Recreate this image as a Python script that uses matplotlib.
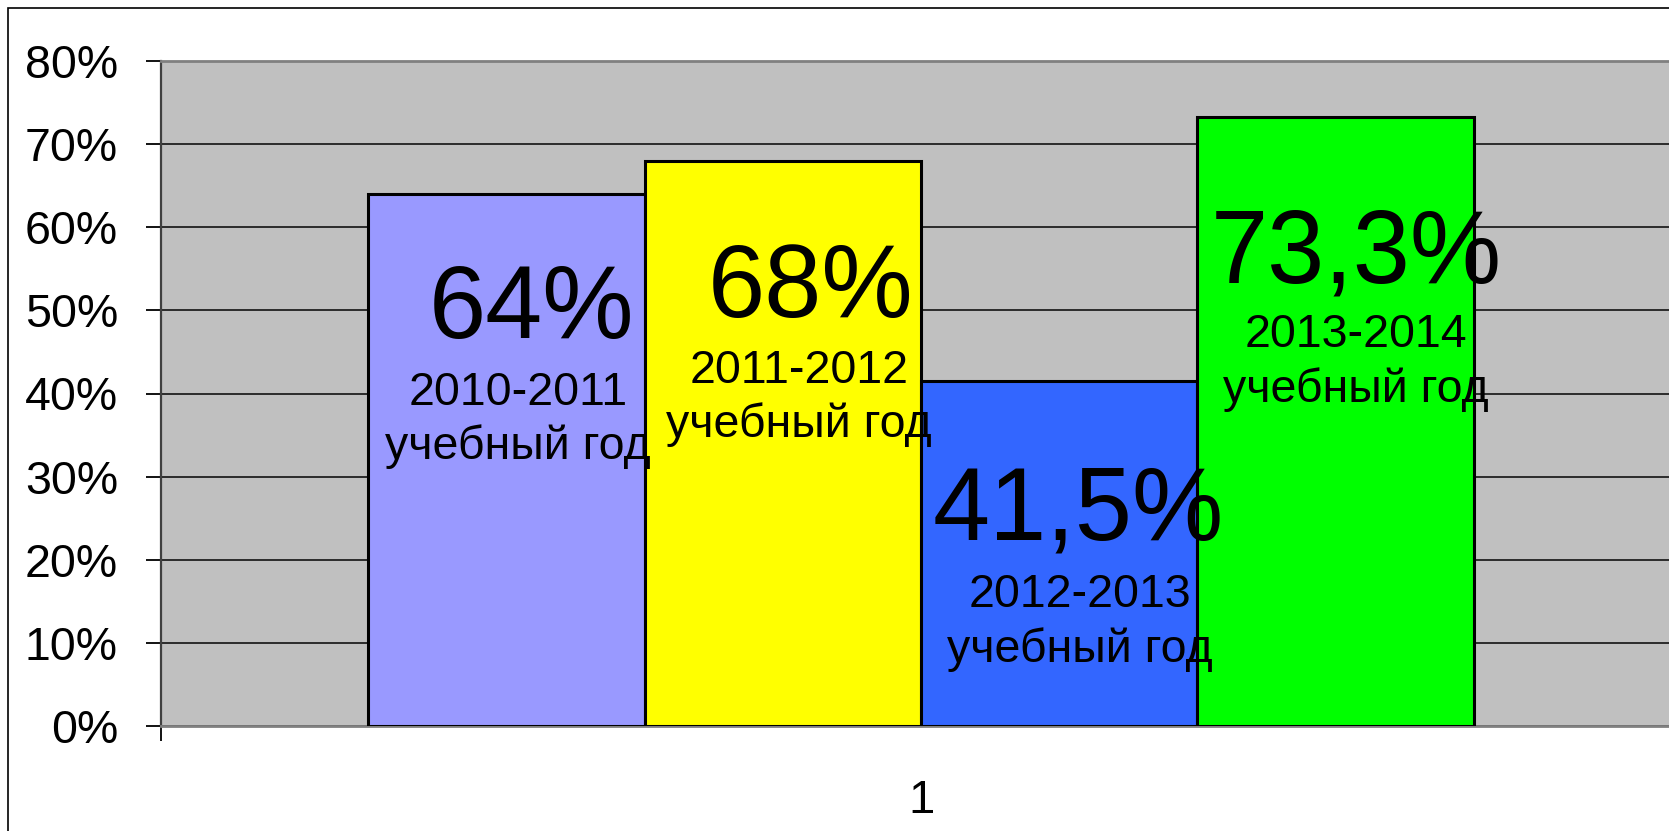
import matplotlib
matplotlib.use("Agg")
from matplotlib import pyplot as plt
from matplotlib.patches import Rectangle
from matplotlib.ticker import FixedLocator, NullFormatter
import numpy as np

plt.rcParams['font.family'] = ['Liberation Sans', 'DejaVu Sans']

# data
years = ["2010-2011", "2011-2012", "2012-2013", "2013-2014"]
values = [64, 68, 41.5, 73.3]
colors = ["#9999FF", "#FFFF00", "#3366FF", "#00FF00"]
year_suffix = "учебный год"
category = "1"

# label placement (data coords): x for big / small text, y baselines
big_x = [-0.2563, -0.0724, 0.1033, 0.2862]
small_x = [-0.2651, -0.0803, 0.1046, 0.2862]
big_y = [46.7, 49.2, 22.4, 53.4]
line1_y = [38.6, 41.3, 14.3, 45.6]
line2_y = [32.1, 34.8, 7.7, 39.0]

W, H = 1669, 831
fig = plt.figure(figsize=(W / 100, H / 100), dpi=100)

# outer chart frame (cut off on the right and bottom)
fig.patches.append(Rectangle((8 / W, -0.1), 1.2, 1 - 8 / H + 0.1, transform=fig.transFigure,
                             fill=False, edgecolor='black', linewidth=1.2))

ax = fig.add_axes([161 / W, 105 / H, 1520 / W, 665 / H])
ax.set_facecolor("#C0C0C0")

n = len(values)
w = 1 / (n + 1.5)
xs = (np.arange(n) - (n - 1) / 2) * w
ax.bar(xs, values, width=w, color=colors, edgecolor='black', linewidth=2.2, zorder=3)

ax.set_xlim(-0.5, 0.5)
ax.set_ylim(0, 80)
ax.set_yticks(np.arange(0, 81, 10))
ax.set_yticklabels([f"{t}%" for t in range(0, 81, 10)], fontsize=33.5)
ax.yaxis.grid(True, color='#202020', linewidth=1.3, zorder=1)
ax.tick_params(axis='y', length=11, width=1.3, pad=20, direction='out')

ax.xaxis.set_major_locator(FixedLocator([-0.5, 0.5]))
ax.xaxis.set_major_formatter(NullFormatter())
ax.xaxis.set_minor_locator(FixedLocator([0]))
ax.set_xticklabels([category], minor=True, fontsize=34)
ax.tick_params(axis='x', which='major', length=11, width=1.3, direction='out')
ax.tick_params(axis='x', which='minor', length=0, pad=38)

for s in ['top', 'bottom']:
    ax.spines[s].set_color('#808080')
    ax.spines[s].set_linewidth(2)
ax.spines['left'].set_color('#404040')
ax.spines['left'].set_linewidth(1.6)
ax.spines['right'].set_visible(False)

for i in range(n):
    lab = f"{values[i]:g}".replace('.', ',') + "%"
    ax.text(big_x[i], big_y[i], lab, fontsize=74, ha='center', va='baseline', zorder=4)
    ax.text(small_x[i], line1_y[i], years[i], fontsize=33.5, ha='center', va='baseline', zorder=4)
    ax.text(small_x[i], line2_y[i], year_suffix, fontsize=33.5, ha='center', va='baseline', zorder=4)

fig.savefig("out.png", dpi=100)
